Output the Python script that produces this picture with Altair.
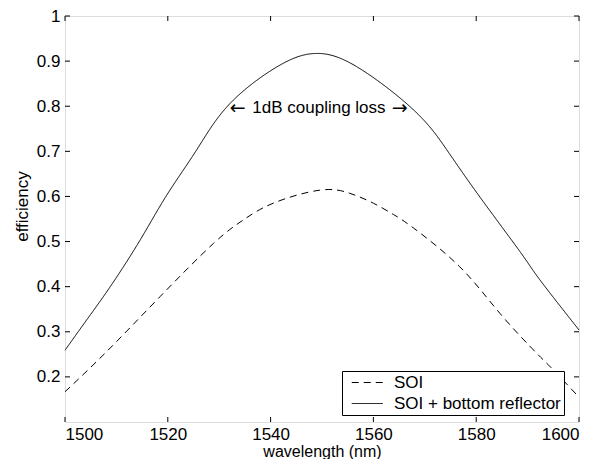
import altair as alt
import pandas as pd

# SOI + bottom reflector (solid)
solid_w = [1500, 1504.2, 1508.8, 1514.6, 1519.8, 1525.6, 1532.1, 1541.8, 1549.0, 1556.7, 1567.8, 1574.3, 1580.7, 1588.5, 1592.4, 1600]
solid_v = [0.259, 0.326, 0.400, 0.503, 0.603, 0.703, 0.806, 0.891, 0.917, 0.888, 0.792, 0.703, 0.599, 0.478, 0.415, 0.304]
# SOI (dashed)
dash_w = [1500, 1508.1, 1518.5, 1528.9, 1534.7, 1540.5, 1549.6, 1555.4, 1560.0, 1563.9, 1567.8, 1576.8, 1584.6, 1591.8, 1594.7, 1600]
dash_v = [0.167, 0.256, 0.378, 0.496, 0.548, 0.585, 0.614, 0.607, 0.585, 0.560, 0.530, 0.444, 0.341, 0.252, 0.219, 0.155]

series_names = ["SOI", "SOI + bottom reflector"]
x_ticks = [1500, 1520, 1540, 1560, 1580, 1600]
y_ticks = [0.2, 0.3, 0.4, 0.5, 0.6, 0.7, 0.8, 0.9, 1.0]

annot_x = [1549.4]
annot_y = [0.796]
annot_text = ["1dB coupling loss"]
arrow_x = [1533.6, 1565.1]
arrow_y = [0.796, 0.796]
arrow_text = ["\u2190", "\u2192"]

FONT = "Liberation Sans"
FS = 17
W, H = 514, 406

df = pd.concat([
    pd.DataFrame({"w": dash_w, "v": dash_v, "series": series_names[0]}),
    pd.DataFrame({"w": solid_w, "v": solid_v, "series": series_names[1]}),
])

xs = alt.Scale(domain=[1500, 1600], nice=False, zero=False)
ys = alt.Scale(domain=[0.1, 1.0], nice=False, zero=False)

lines = alt.Chart(df).mark_line(interpolate="natural", color="black", strokeWidth=1).encode(
    x=alt.X("w:Q", scale=xs, axis=alt.Axis(
        values=x_ticks, format="d", title="wavelength (nm)", ticks=False, domain=False, grid=False,
        labelFont=FONT, labelFontSize=FS, labelColor="black", labelPadding=4,
        titleFont=FONT, titleFontSize=16, titleFontWeight="normal", titleColor="black",
        titleY=34, titleBaseline="alphabetic")),
    y=alt.Y("v:Q", scale=ys, axis=alt.Axis(
        values=y_ticks, format="~g", title="efficiency", ticks=False, domain=False, grid=False,
        labelFont=FONT, labelFontSize=FS, labelColor="black", labelPadding=5,
        titleFont=FONT, titleFontSize=FS, titleFontWeight="normal", titleColor="black",
        titleX=-43, titleY=190, titleAngle=270, titleBaseline="middle")),
    strokeDash=alt.StrokeDash("series:N", scale=alt.Scale(domain=series_names, range=[[7, 5], [1, 0]]),
        legend=alt.Legend(title=None, orient="none", legendX=277, legendY=355,
                          fillColor="white", strokeColor="black", padding=3,
                          symbolType="M-1,0H3", symbolSize=240, symbolStrokeWidth=1,
                          symbolOffset=6, symbolStrokeColor="black",
                          labelFont=FONT, labelFontSize=FS, labelLimit=400,
                          labelColor="black", labelOffset=26, rowPadding=3)),
    detail="series:N",
)

annot = alt.Chart(pd.DataFrame({"x": annot_x, "y": annot_y, "t": annot_text})).mark_text(
    font=FONT, fontSize=FS, color="black", align="center", baseline="middle"
).encode(x=alt.X("x:Q", scale=xs), y=alt.Y("y:Q", scale=ys), text="t:N")

arrows = alt.Chart(pd.DataFrame({"x": arrow_x, "y": arrow_y, "t": arrow_text})).mark_text(
    font="DejaVu Sans", fontSize=19, color="black", align="center", baseline="middle"
).encode(x=alt.X("x:Q", scale=xs), y=alt.Y("y:Q", scale=ys), text="t:N")

ydf = pd.DataFrame({"v": y_ticks})
xdf = pd.DataFrame({"w": x_ticks})
TL = 5
tick_left = alt.Chart(ydf).mark_rule(color="black", strokeWidth=1).encode(
    y=alt.Y("v:Q", scale=ys), x=alt.value(0), x2=alt.value(TL))
tick_right = alt.Chart(ydf).mark_rule(color="black", strokeWidth=1).encode(
    y=alt.Y("v:Q", scale=ys), x=alt.value(W - TL), x2=alt.value(W))
tick_bottom = alt.Chart(xdf).mark_rule(color="black", strokeWidth=1).encode(
    x=alt.X("w:Q", scale=xs), y=alt.value(H - TL), y2=alt.value(H))
tick_top = alt.Chart(xdf).mark_rule(color="black", strokeWidth=1).encode(
    x=alt.X("w:Q", scale=xs), y=alt.value(0), y2=alt.value(TL))

chart = alt.layer(tick_left, tick_right, tick_bottom, tick_top, annot, arrows, lines).properties(
    width=W, height=H,
    autosize=alt.AutoSizeParams(type="none"),
    padding={"left": 57, "top": 8, "right": 20, "bottom": 37},
).configure_view(stroke="black", strokeWidth=1.2).configure(background="white")

chart.save("out.html", embed_options={"renderer": "svg", "actions": False})
